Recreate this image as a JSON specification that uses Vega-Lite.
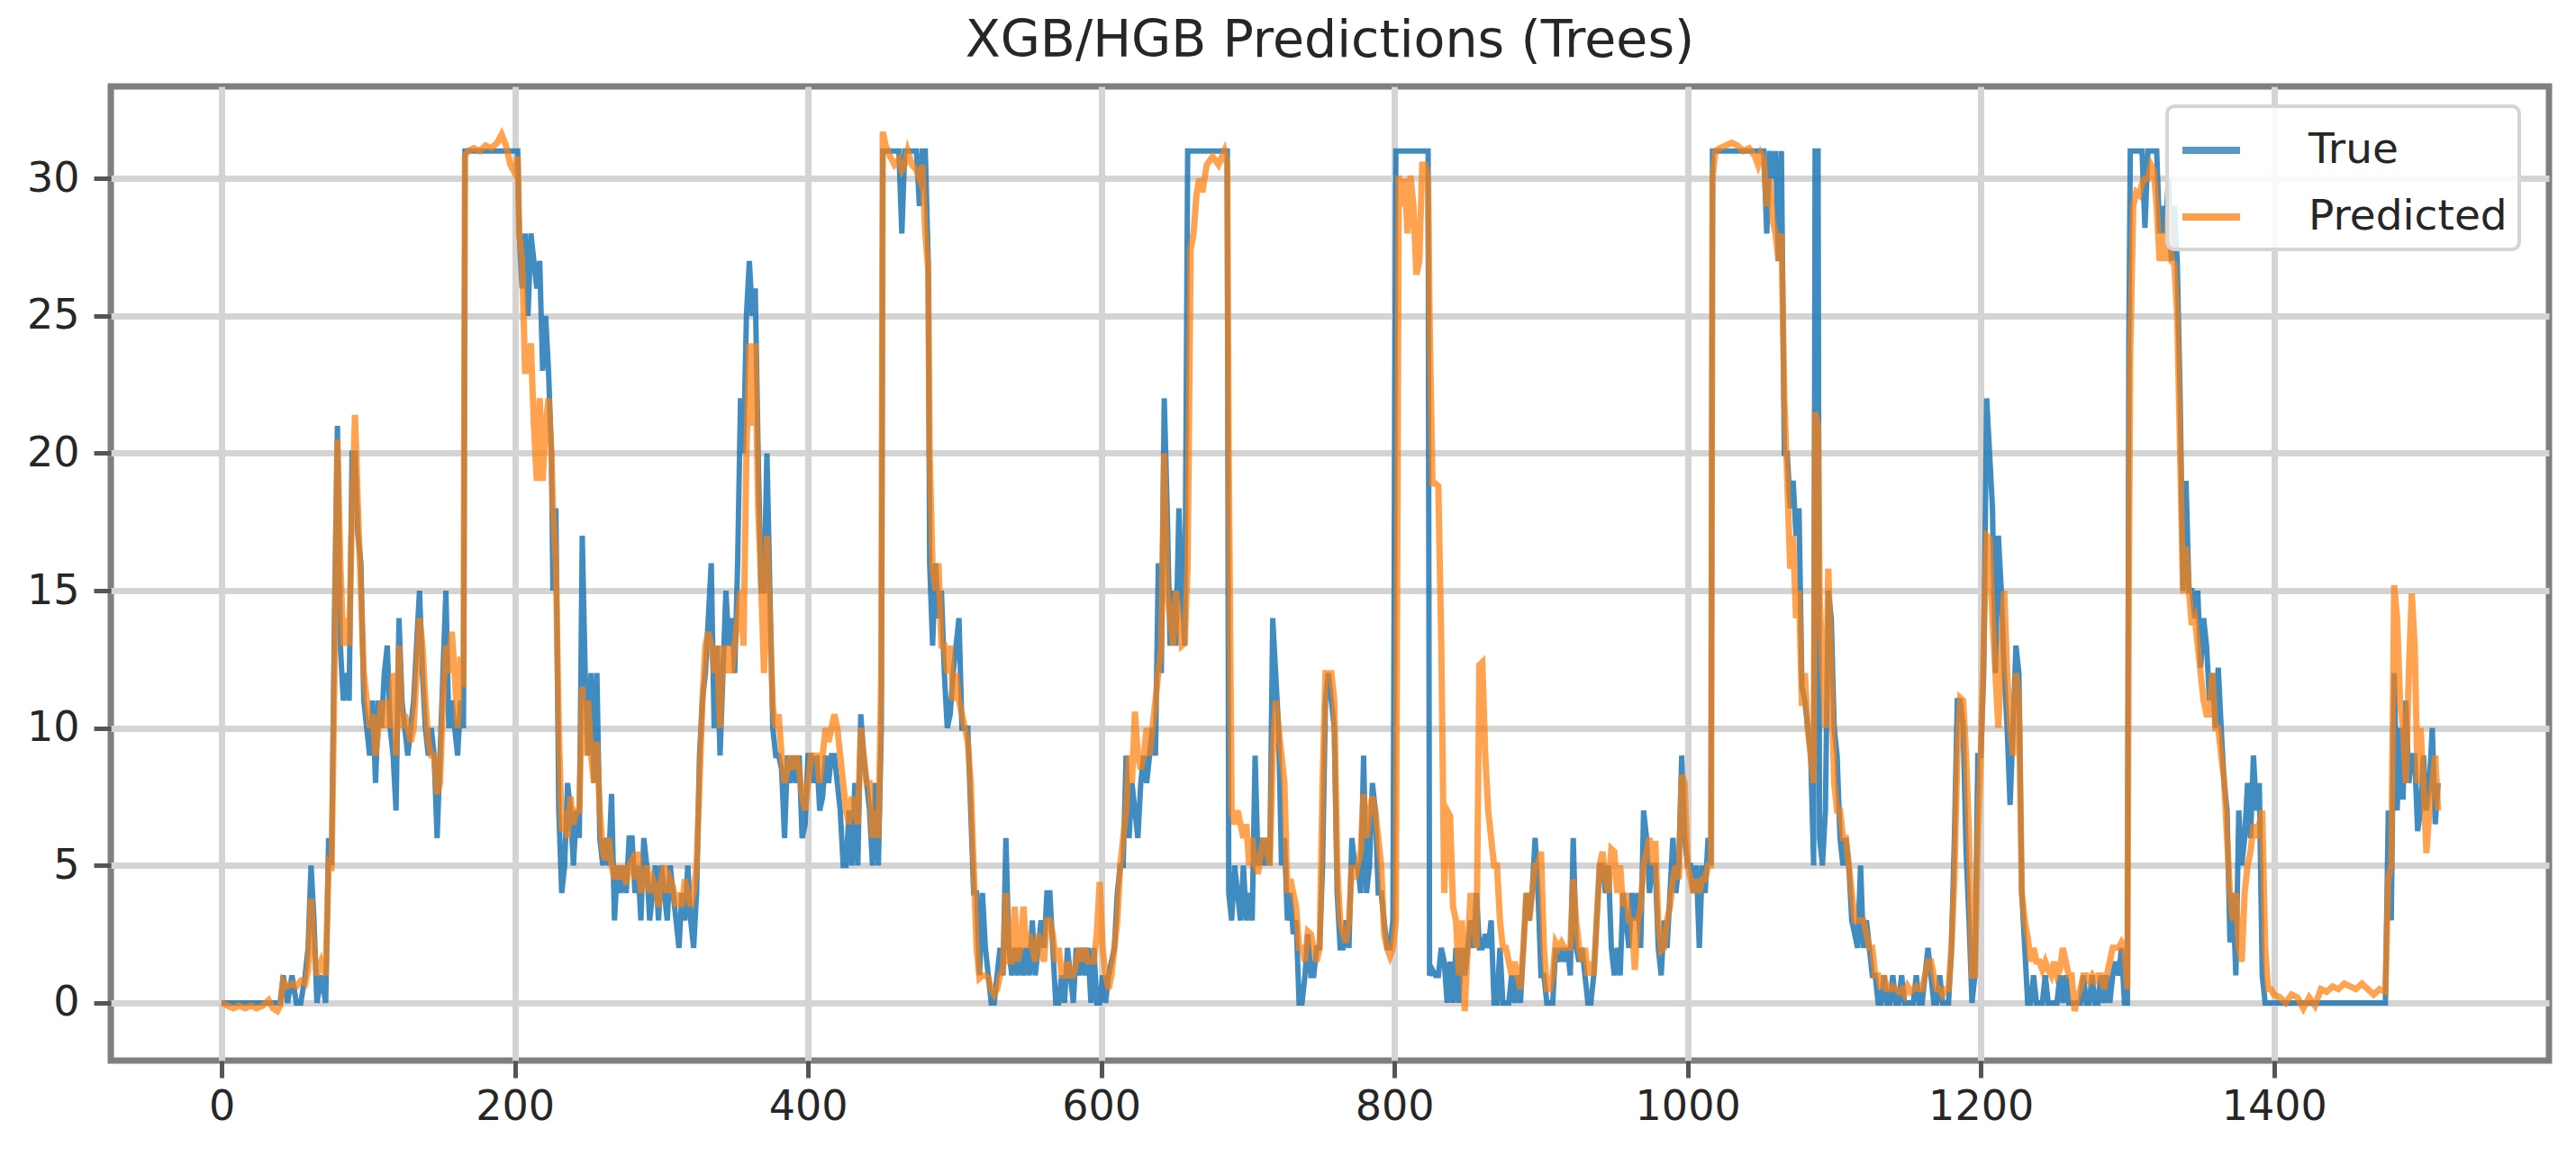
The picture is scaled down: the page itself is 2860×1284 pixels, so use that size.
{
"$schema":"https://vega.github.io/schema/vega-lite/v6.json",
"width":2707,"height":1082,
"autosize":{"type":"none"},
"padding":{"left":123,"top":96,"right":30,"bottom":106},
"title":{"text":"XGB/HGB Predictions (Trees)","font":"DejaVu Sans","fontSize":57,"fontWeight":"normal","color":"#262626","offset":21},
"data":{"values":[
{"x":0,"True":0,"Predicted":0},{"x":4,"True":0,"Predicted":-0.1},{"x":8,"True":0,"Predicted":-0.2},{"x":12,"True":0,"Predicted":-0.1},{"x":16,"True":0,"Predicted":-0.2},{"x":20,"True":0,"Predicted":-0.1},{"x":24,"True":0,"Predicted":-0.2},{"x":28,"True":0,"Predicted":-0.1},{"x":32,"True":0,"Predicted":0.1},{"x":35,"True":0,"Predicted":-0.2},{"x":38,"True":0,"Predicted":-0.3},{"x":40,"True":0,"Predicted":-0.1},
{"x":42,"True":1,"Predicted":0.8},{"x":45,"True":0,"Predicted":0.6},{"x":48,"True":1,"Predicted":0.7},{"x":51,"True":0,"Predicted":0.6},{"x":54,"True":0,"Predicted":0.8},{"x":57,"True":1,"Predicted":0.7},{"x":59,"True":2,"Predicted":1.2},{"x":61,"True":5,"Predicted":3.8},{"x":63,"True":3,"Predicted":2},{"x":65,"True":0,"Predicted":1},{"x":68,"True":1,"Predicted":1.5},{"x":71,"True":0,"Predicted":1},{"x":73,"True":6,"Predicted":5},{"x":75,"True":5,"Predicted":4.8},{"x":77,"True":14,"Predicted":12},{"x":79,"True":21,"Predicted":20.5},{"x":81,"True":13,"Predicted":16},{"x":83,"True":11,"Predicted":13},{"x":85,"True":12,"Predicted":14},{"x":87,"True":11,"Predicted":13},{"x":89,"True":20,"Predicted":18},{"x":91,"True":20,"Predicted":21.4},{"x":93,"True":17,"Predicted":18},{"x":95,"True":16,"Predicted":15},{"x":97,"True":11,"Predicted":12},{"x":99,"True":10,"Predicted":11},
{"x":101,"True":9,"Predicted":10},{"x":103,"True":11,"Predicted":10.5},{"x":105,"True":8,"Predicted":9},{"x":107,"True":11,"Predicted":10},{"x":109,"True":10,"Predicted":11},{"x":111,"True":12,"Predicted":10},{"x":113,"True":13,"Predicted":11},{"x":115,"True":10,"Predicted":10},{"x":117,"True":9,"Predicted":12},{"x":119,"True":7,"Predicted":9},{"x":121,"True":14,"Predicted":13},{"x":123,"True":11,"Predicted":10},{"x":125,"True":10,"Predicted":10.5},{"x":127,"True":9,"Predicted":10},{"x":129,"True":10,"Predicted":9.5},{"x":131,"True":11,"Predicted":10},{"x":133,"True":13,"Predicted":12},{"x":135,"True":15,"Predicted":14},{"x":137,"True":12,"Predicted":13},{"x":139,"True":10,"Predicted":11},{"x":141,"True":9,"Predicted":9.5},{"x":143,"True":10,"Predicted":9},{"x":145,"True":9,"Predicted":9},{"x":147,"True":6,"Predicted":7.6},{"x":149,"True":9,"Predicted":8},{"x":151,"True":12,"Predicted":11},{"x":153,"True":15,"Predicted":13},{"x":155,"True":10,"Predicted":12},{"x":157,"True":11,"Predicted":13.5},{"x":159,"True":10,"Predicted":12},{"x":161,"True":9,"Predicted":10},{"x":163,"True":11,"Predicted":12.6},{"x":165,"True":10,"Predicted":11.5},
{"x":166,"True":31,"Predicted":30.8},{"x":168,"True":31,"Predicted":31},{"x":172,"True":31,"Predicted":31.1},{"x":176,"True":31,"Predicted":31},{"x":180,"True":31,"Predicted":31.2},{"x":184,"True":31,"Predicted":31.1},{"x":188,"True":31,"Predicted":31.3},{"x":191,"True":31,"Predicted":31.6},{"x":194,"True":31,"Predicted":31.2},{"x":197,"True":31,"Predicted":30.5},{"x":200,"True":31,"Predicted":30.2},{"x":202,"True":31,"Predicted":30.8},
{"x":203,"True":28,"Predicted":28},{"x":205,"True":26,"Predicted":27},{"x":207,"True":28,"Predicted":23},{"x":209,"True":25,"Predicted":23},{"x":211,"True":28,"Predicted":24},{"x":213,"True":27,"Predicted":21},{"x":215,"True":26,"Predicted":19},{"x":217,"True":27,"Predicted":22},{"x":219,"True":23,"Predicted":19},{"x":221,"True":25,"Predicted":21},{"x":223,"True":23,"Predicted":22},{"x":225,"True":20,"Predicted":20},{"x":226,"True":15,"Predicted":18},{"x":228,"True":18,"Predicted":16},{"x":230,"True":7,"Predicted":10},{"x":232,"True":4,"Predicted":6.25},{"x":234,"True":5,"Predicted":7},{"x":236,"True":8,"Predicted":6},{"x":238,"True":7,"Predicted":7.5},{"x":240,"True":5,"Predicted":6.5},{"x":242,"True":7,"Predicted":7},{"x":244,"True":6,"Predicted":7},{"x":246,"True":17,"Predicted":11.5},{"x":248,"True":12,"Predicted":9},{"x":250,"True":9,"Predicted":11},{"x":252,"True":12,"Predicted":9},{"x":254,"True":8,"Predicted":8},{"x":256,"True":12,"Predicted":9.5},{"x":258,"True":6,"Predicted":7},{"x":260,"True":5,"Predicted":5.5},{"x":262,"True":6,"Predicted":5.2},{"x":264,"True":5,"Predicted":6},{"x":266,"True":7.6,"Predicted":5},{"x":268,"True":3,"Predicted":4.5},{"x":270,"True":5,"Predicted":5},{"x":272,"True":4,"Predicted":4.5},{"x":274,"True":5,"Predicted":5},{"x":276,"True":4,"Predicted":4.3},{"x":278,"True":6,"Predicted":5},{"x":280,"True":6,"Predicted":5.2},{"x":282,"True":4,"Predicted":4.5},{"x":284,"True":5,"Predicted":5.5},{"x":286,"True":3,"Predicted":4},{"x":288,"True":6,"Predicted":4.5},{"x":290,"True":5,"Predicted":5},{"x":292,"True":3,"Predicted":4},{"x":294,"True":4,"Predicted":4.5},{"x":296,"True":5,"Predicted":4.2},{"x":298,"True":3,"Predicted":3.5},{"x":300,"True":5,"Predicted":4.5},{"x":302,"True":4,"Predicted":5},{"x":304,"True":3,"Predicted":4},{"x":306,"True":5,"Predicted":4.5},{"x":308,"True":4,"Predicted":4.2},{"x":310,"True":3,"Predicted":3.5},{"x":312,"True":2,"Predicted":4},{"x":314,"True":4,"Predicted":3.5},{"x":316,"True":3,"Predicted":4.5},{"x":318,"True":5,"Predicted":4},{"x":320,"True":3,"Predicted":3.5},{"x":322,"True":2,"Predicted":4},{"x":324,"True":4,"Predicted":5},
{"x":326,"True":9,"Predicted":8},{"x":328,"True":11,"Predicted":11},{"x":330,"True":12,"Predicted":13},{"x":332,"True":14,"Predicted":13.5},{"x":334,"True":16,"Predicted":13},{"x":336,"True":10,"Predicted":12},{"x":338,"True":13,"Predicted":13},{"x":340,"True":9,"Predicted":10},{"x":342,"True":12,"Predicted":13},{"x":344,"True":15,"Predicted":12},{"x":346,"True":13,"Predicted":13},{"x":348,"True":14,"Predicted":12},{"x":350,"True":12,"Predicted":13},{"x":352,"True":16,"Predicted":14},{"x":354,"True":22,"Predicted":15},{"x":356,"True":20,"Predicted":13},{"x":358,"True":25,"Predicted":20},{"x":360,"True":27,"Predicted":24},{"x":362,"True":25,"Predicted":21},{"x":364,"True":26,"Predicted":24},{"x":366,"True":20,"Predicted":18},{"x":368,"True":15,"Predicted":15.3},{"x":370,"True":15,"Predicted":12},{"x":372,"True":20,"Predicted":17},{"x":374,"True":15,"Predicted":14},{"x":376,"True":10,"Predicted":10.8},{"x":378,"True":9,"Predicted":10},{"x":380,"True":9,"Predicted":10.5},{"x":382,"True":8.5,"Predicted":9},{"x":384,"True":6,"Predicted":8},{"x":386,"True":9,"Predicted":8.5},{"x":388,"True":8,"Predicted":9},{"x":390,"True":9,"Predicted":8.5},{"x":392,"True":8,"Predicted":9},{"x":394,"True":9,"Predicted":8.5},{"x":396,"True":6,"Predicted":7.5},{"x":398,"True":6.5,"Predicted":7},{"x":400,"True":9,"Predicted":8},{"x":402,"True":9,"Predicted":9},{"x":404,"True":8,"Predicted":9},{"x":406,"True":9,"Predicted":9},{"x":408,"True":7,"Predicted":8},{"x":410,"True":7.5,"Predicted":9},{"x":412,"True":9,"Predicted":10},{"x":414,"True":8,"Predicted":9.5},{"x":416,"True":9,"Predicted":10},{"x":418,"True":9,"Predicted":10.5},{"x":420,"True":8,"Predicted":10},{"x":422,"True":7,"Predicted":9},{"x":424,"True":5,"Predicted":8},{"x":426,"True":5,"Predicted":7},{"x":428,"True":7,"Predicted":6.5},{"x":430,"True":5,"Predicted":7.5},{"x":432,"True":8,"Predicted":7},{"x":434,"True":5,"Predicted":6.5},{"x":436,"True":10.5,"Predicted":10},{"x":438,"True":9,"Predicted":9},{"x":440,"True":8,"Predicted":8},{"x":442,"True":7,"Predicted":8},{"x":444,"True":5,"Predicted":6},{"x":446,"True":8,"Predicted":7},{"x":448,"True":5,"Predicted":6},{"x":450,"True":10,"Predicted":12},
{"x":451,"True":31,"Predicted":31.7},{"x":453,"True":31,"Predicted":31.2},{"x":456,"True":31,"Predicted":30.8},{"x":459,"True":31,"Predicted":30.5},{"x":462,"True":31,"Predicted":30.7},{"x":464,"True":28,"Predicted":30.3},{"x":466,"True":31,"Predicted":30.5},{"x":468,"True":31,"Predicted":31},{"x":471,"True":31,"Predicted":30.5},{"x":474,"True":31,"Predicted":30.3},{"x":476,"True":29,"Predicted":30},{"x":478,"True":31,"Predicted":30.5},{"x":480,"True":31,"Predicted":28},{"x":482,"True":27,"Predicted":26.7},
{"x":483,"True":16,"Predicted":20},{"x":485,"True":13,"Predicted":15.8},{"x":487,"True":16,"Predicted":15},{"x":489,"True":14,"Predicted":16},{"x":491,"True":15,"Predicted":13},{"x":493,"True":12,"Predicted":13},{"x":495,"True":10,"Predicted":12},{"x":497,"True":10.5,"Predicted":13},{"x":499,"True":12,"Predicted":11},{"x":501,"True":13,"Predicted":12},{"x":503,"True":14,"Predicted":11},{"x":505,"True":10,"Predicted":10.5},{"x":507,"True":10,"Predicted":10},{"x":509,"True":10,"Predicted":9.5},{"x":511,"True":7,"Predicted":8},{"x":513,"True":4,"Predicted":5},{"x":515,"True":4,"Predicted":2},{"x":517,"True":1,"Predicted":0.9},{"x":519,"True":4,"Predicted":1},{"x":521,"True":2,"Predicted":1},{"x":523,"True":1,"Predicted":0.9},{"x":525,"True":0,"Predicted":0.5},{"x":527,"True":0,"Predicted":0.3},{"x":529,"True":1,"Predicted":0.5},{"x":531,"True":2,"Predicted":1},{"x":533,"True":1,"Predicted":1.2},{"x":535,"True":6,"Predicted":4},{"x":537,"True":2,"Predicted":1.5},{"x":539,"True":1,"Predicted":1.5},{"x":541,"True":2,"Predicted":3.5},{"x":543,"True":1,"Predicted":1.5},{"x":545,"True":2,"Predicted":2},{"x":547,"True":1,"Predicted":3.5},{"x":549,"True":2,"Predicted":2},{"x":551,"True":1,"Predicted":2.5},{"x":553,"True":3,"Predicted":2},{"x":555,"True":1,"Predicted":1.5},{"x":557,"True":2,"Predicted":2.5},{"x":559,"True":3,"Predicted":2},{"x":561,"True":2,"Predicted":1.5},{"x":563,"True":4,"Predicted":3},{"x":565,"True":4,"Predicted":3},{"x":567,"True":2,"Predicted":2.5},{"x":569,"True":0,"Predicted":1.5},{"x":571,"True":0,"Predicted":2},{"x":573,"True":1,"Predicted":1},{"x":575,"True":0,"Predicted":1},{"x":577,"True":2,"Predicted":1.5},{"x":579,"True":1,"Predicted":1},{"x":581,"True":0,"Predicted":1},{"x":583,"True":2,"Predicted":1.5},{"x":585,"True":1,"Predicted":2},{"x":587,"True":2,"Predicted":1.5},{"x":589,"True":1,"Predicted":2},{"x":591,"True":2,"Predicted":1.5},{"x":593,"True":0,"Predicted":1.5},{"x":595,"True":2,"Predicted":1.5},{"x":597,"True":0,"Predicted":2.5},{"x":599,"True":0,"Predicted":4.4},{"x":601,"True":1,"Predicted":2},{"x":603,"True":0,"Predicted":1},{"x":605,"True":1,"Predicted":0.5},{"x":607,"True":1.5,"Predicted":1},{"x":609,"True":2,"Predicted":2},{"x":611,"True":4,"Predicted":3},{"x":613,"True":5,"Predicted":5},{"x":615,"True":5,"Predicted":6},{"x":617,"True":9,"Predicted":7},{"x":619,"True":6,"Predicted":9},{"x":621,"True":8,"Predicted":8},{"x":623,"True":7,"Predicted":10.6},{"x":625,"True":6,"Predicted":9},{"x":627,"True":8,"Predicted":8.5},{"x":629,"True":9,"Predicted":9},{"x":631,"True":8,"Predicted":10},{"x":633,"True":9,"Predicted":9},{"x":635,"True":10,"Predicted":10},{"x":637,"True":9,"Predicted":11},{"x":639,"True":16,"Predicted":12},{"x":641,"True":12,"Predicted":13},{"x":643,"True":22,"Predicted":20},{"x":645,"True":18,"Predicted":15},{"x":647,"True":13,"Predicted":14},{"x":649,"True":15,"Predicted":13},{"x":651,"True":13,"Predicted":15},{"x":653,"True":18,"Predicted":14},{"x":655,"True":15,"Predicted":13},{"x":657,"True":13,"Predicted":13.1},
{"x":659,"True":31,"Predicted":16},{"x":661,"True":31,"Predicted":27.4},{"x":663,"True":31,"Predicted":28},{"x":665,"True":31,"Predicted":29.4},{"x":667,"True":31,"Predicted":30},{"x":669,"True":31,"Predicted":29.5},{"x":672,"True":31,"Predicted":30.5},{"x":676,"True":31,"Predicted":30.8},{"x":680,"True":31,"Predicted":30.5},{"x":684,"True":31,"Predicted":31},{"x":686,"True":31,"Predicted":30.5},
{"x":687,"True":4,"Predicted":20},{"x":689,"True":3,"Predicted":7},{"x":691,"True":5,"Predicted":6.5},{"x":693,"True":4,"Predicted":7},{"x":695,"True":3,"Predicted":6.5},{"x":697,"True":5,"Predicted":6},{"x":699,"True":3,"Predicted":6.5},{"x":701,"True":4,"Predicted":5},{"x":703,"True":3,"Predicted":6},{"x":705,"True":9,"Predicted":5},{"x":707,"True":5,"Predicted":4.7},{"x":709,"True":6,"Predicted":5.5},{"x":711,"True":5,"Predicted":6},{"x":713,"True":6,"Predicted":5.5},{"x":715,"True":5,"Predicted":5},{"x":717,"True":14,"Predicted":9},{"x":719,"True":12,"Predicted":11},{"x":721,"True":10,"Predicted":10},{"x":723,"True":5,"Predicted":9},{"x":725,"True":6,"Predicted":8},{"x":727,"True":3,"Predicted":4},{"x":729,"True":4,"Predicted":4.5},{"x":731,"True":2.5,"Predicted":4},{"x":733,"True":3,"Predicted":3.5},{"x":735,"True":0,"Predicted":2},{"x":737,"True":0,"Predicted":2},{"x":739,"True":1,"Predicted":1.5},{"x":741,"True":2.5,"Predicted":2.6},{"x":743,"True":1,"Predicted":2.5},{"x":745,"True":1,"Predicted":2},{"x":747,"True":2,"Predicted":1.5},{"x":749,"True":2,"Predicted":2},{"x":751,"True":5,"Predicted":8},{"x":753,"True":11,"Predicted":12},{"x":755,"True":12,"Predicted":12},{"x":757,"True":11,"Predicted":12},{"x":759,"True":10,"Predicted":11},{"x":761,"True":4,"Predicted":5},{"x":763,"True":2,"Predicted":3},{"x":765,"True":2,"Predicted":2.5},{"x":767,"True":3,"Predicted":2.2},{"x":769,"True":2,"Predicted":3},{"x":771,"True":6,"Predicted":5},{"x":773,"True":5,"Predicted":4.5},{"x":775,"True":5,"Predicted":5},{"x":777,"True":4,"Predicted":5.5},{"x":779,"True":9,"Predicted":7.6},{"x":781,"True":4,"Predicted":6},{"x":783,"True":5,"Predicted":7},{"x":785,"True":8,"Predicted":7.5},{"x":787,"True":7,"Predicted":7},{"x":789,"True":4,"Predicted":6},{"x":791,"True":4,"Predicted":5},{"x":793,"True":3,"Predicted":2.5},{"x":795,"True":2,"Predicted":2},{"x":797,"True":2,"Predicted":1.7},{"x":799,"True":3,"Predicted":2},
{"x":801,"True":31,"Predicted":3},{"x":803,"True":31,"Predicted":30.1},{"x":805,"True":31,"Predicted":29},{"x":807,"True":31,"Predicted":30},{"x":809,"True":31,"Predicted":28},{"x":811,"True":31,"Predicted":30.1},{"x":813,"True":31,"Predicted":29},{"x":815,"True":31,"Predicted":26.5},{"x":817,"True":31,"Predicted":27},{"x":819,"True":31,"Predicted":30.5},{"x":821,"True":31,"Predicted":30.5},{"x":823,"True":31,"Predicted":30},
{"x":824,"True":1,"Predicted":25},{"x":826,"True":1.2,"Predicted":18.9},{"x":828,"True":1,"Predicted":18.9},{"x":830,"True":1,"Predicted":18.8},{"x":832,"True":2,"Predicted":13},{"x":834,"True":1.5,"Predicted":4},{"x":836,"True":0,"Predicted":7},{"x":838,"True":1.5,"Predicted":6.8},{"x":840,"True":0,"Predicted":3.5},{"x":842,"True":2,"Predicted":3},{"x":844,"True":0,"Predicted":1},{"x":846,"True":2,"Predicted":3},{"x":848,"True":1,"Predicted":-0.3},{"x":850,"True":2,"Predicted":2},{"x":852,"True":3,"Predicted":4},{"x":854,"True":2,"Predicted":3},{"x":856,"True":4,"Predicted":2},{"x":858,"True":2,"Predicted":12.3},{"x":860,"True":2,"Predicted":12.4},{"x":862,"True":2.5,"Predicted":9},{"x":864,"True":2,"Predicted":7},{"x":866,"True":3,"Predicted":6},{"x":868,"True":0,"Predicted":5},{"x":870,"True":0,"Predicted":5},{"x":872,"True":2,"Predicted":3},{"x":874,"True":0,"Predicted":2},{"x":876,"True":0,"Predicted":2},{"x":878,"True":0,"Predicted":1.5},{"x":880,"True":1,"Predicted":1},{"x":882,"True":0,"Predicted":1.5},{"x":884,"True":1,"Predicted":1},{"x":886,"True":0,"Predicted":0.5},{"x":888,"True":2,"Predicted":2},{"x":890,"True":4,"Predicted":4},{"x":892,"True":3,"Predicted":3},{"x":894,"True":4,"Predicted":4},{"x":896,"True":6,"Predicted":5},{"x":898,"True":4,"Predicted":5},{"x":900,"True":1,"Predicted":5.5},{"x":902,"True":1,"Predicted":2},{"x":904,"True":0,"Predicted":0.5},{"x":906,"True":0,"Predicted":0.5},{"x":908,"True":0,"Predicted":1},{"x":910,"True":2,"Predicted":2.2},{"x":912,"True":1.5,"Predicted":2},{"x":914,"True":2,"Predicted":2.2},{"x":916,"True":1.5,"Predicted":2},{"x":918,"True":2,"Predicted":2},{"x":920,"True":1,"Predicted":2},{"x":922,"True":6,"Predicted":4.5},{"x":924,"True":2,"Predicted":3},{"x":926,"True":1.5,"Predicted":2},{"x":928,"True":2,"Predicted":1.5},{"x":930,"True":1,"Predicted":2},{"x":932,"True":0,"Predicted":1},{"x":934,"True":0,"Predicted":1.5},{"x":936,"True":1,"Predicted":1},{"x":938,"True":3,"Predicted":3},{"x":940,"True":5,"Predicted":5},{"x":942,"True":5,"Predicted":5.5},{"x":944,"True":4,"Predicted":4.5},{"x":946,"True":5,"Predicted":4},{"x":948,"True":2,"Predicted":5.6},{"x":950,"True":1,"Predicted":5.5},{"x":952,"True":2,"Predicted":4},{"x":954,"True":1,"Predicted":5},{"x":956,"True":4,"Predicted":3.5},{"x":958,"True":3,"Predicted":4},{"x":960,"True":2,"Predicted":3},{"x":962,"True":4,"Predicted":3},{"x":964,"True":3,"Predicted":1.2},{"x":966,"True":4,"Predicted":3},{"x":968,"True":2,"Predicted":3.5},{"x":970,"True":7,"Predicted":5},{"x":972,"True":6,"Predicted":5.5},{"x":974,"True":4,"Predicted":6},{"x":976,"True":5,"Predicted":5},{"x":978,"True":5,"Predicted":5.9},{"x":980,"True":2,"Predicted":3},{"x":982,"True":1,"Predicted":1.9},{"x":984,"True":3,"Predicted":2},{"x":986,"True":2,"Predicted":3},{"x":988,"True":4,"Predicted":3.5},{"x":990,"True":6,"Predicted":4.5},{"x":992,"True":4,"Predicted":5},{"x":994,"True":5,"Predicted":4.5},{"x":996,"True":9,"Predicted":8.3},{"x":998,"True":6,"Predicted":8},{"x":1000,"True":5,"Predicted":5},{"x":1002,"True":5,"Predicted":4.5},{"x":1004,"True":4,"Predicted":4},{"x":1006,"True":5,"Predicted":4.5},{"x":1008,"True":2,"Predicted":4},{"x":1010,"True":5,"Predicted":4.5},{"x":1012,"True":4,"Predicted":4.5},{"x":1014,"True":6,"Predicted":5},{"x":1016,"True":5,"Predicted":5},
{"x":1017,"True":31,"Predicted":30},{"x":1019,"True":31,"Predicted":31},{"x":1022,"True":31,"Predicted":31.1},{"x":1026,"True":31,"Predicted":31.2},{"x":1030,"True":31,"Predicted":31.3},{"x":1034,"True":31,"Predicted":31.2},{"x":1038,"True":31,"Predicted":31},{"x":1042,"True":31,"Predicted":31.1},{"x":1046,"True":31,"Predicted":30.8},{"x":1048,"True":31,"Predicted":30.5},{"x":1050,"True":31,"Predicted":30.9},{"x":1052,"True":31,"Predicted":30.7},{"x":1054,"True":28,"Predicted":29},{"x":1056,"True":31,"Predicted":30},{"x":1058,"True":30,"Predicted":28.5},{"x":1060,"True":31,"Predicted":28},{"x":1062,"True":27,"Predicted":27},{"x":1064,"True":31,"Predicted":28},
{"x":1066,"True":20,"Predicted":22},{"x":1068,"True":20,"Predicted":19},{"x":1070,"True":18,"Predicted":15.8},{"x":1072,"True":19,"Predicted":17},{"x":1074,"True":17,"Predicted":14},{"x":1076,"True":18,"Predicted":15},{"x":1078,"True":11.5,"Predicted":10.8},{"x":1080,"True":11,"Predicted":12},{"x":1082,"True":10,"Predicted":10},{"x":1084,"True":9,"Predicted":9},{"x":1086,"True":5,"Predicted":8},{"x":1087,"True":31,"Predicted":21.5},{"x":1089,"True":31,"Predicted":21},{"x":1090,"True":6,"Predicted":15},{"x":1092,"True":5,"Predicted":12},{"x":1094,"True":7,"Predicted":10},{"x":1096,"True":15,"Predicted":15.8},{"x":1098,"True":14,"Predicted":12},{"x":1100,"True":10,"Predicted":8},{"x":1102,"True":9,"Predicted":7},{"x":1104,"True":6,"Predicted":7},{"x":1106,"True":5,"Predicted":6},{"x":1108,"True":6,"Predicted":6},{"x":1110,"True":5,"Predicted":5},{"x":1112,"True":3,"Predicted":4},{"x":1114,"True":2.5,"Predicted":3},{"x":1116,"True":2,"Predicted":3},{"x":1118,"True":5,"Predicted":3},{"x":1120,"True":2,"Predicted":3},{"x":1122,"True":3,"Predicted":2.5},{"x":1124,"True":2,"Predicted":2},{"x":1126,"True":1,"Predicted":2},{"x":1128,"True":1,"Predicted":1},{"x":1130,"True":0,"Predicted":1},{"x":1132,"True":0,"Predicted":0.5},{"x":1134,"True":1,"Predicted":1},{"x":1136,"True":0,"Predicted":0.5},{"x":1138,"True":0,"Predicted":0.5},{"x":1140,"True":1,"Predicted":0.6},{"x":1142,"True":0,"Predicted":0.5},{"x":1144,"True":0,"Predicted":0.4},{"x":1146,"True":1,"Predicted":0.5},{"x":1148,"True":0,"Predicted":0.3},{"x":1150,"True":0,"Predicted":0.6},{"x":1152,"True":0,"Predicted":0.4},{"x":1154,"True":0,"Predicted":0.5},{"x":1156,"True":1,"Predicted":0.6},{"x":1158,"True":0,"Predicted":0.5},{"x":1160,"True":0,"Predicted":0.5},{"x":1162,"True":1,"Predicted":1},{"x":1164,"True":2,"Predicted":1.5},{"x":1166,"True":1,"Predicted":1.5},{"x":1168,"True":0,"Predicted":1},{"x":1170,"True":0,"Predicted":0.5},{"x":1172,"True":1,"Predicted":0.5},{"x":1174,"True":0,"Predicted":0.3},{"x":1176,"True":0,"Predicted":0.5},{"x":1178,"True":0,"Predicted":0.5},{"x":1180,"True":2,"Predicted":2},{"x":1182,"True":6,"Predicted":4.5},{"x":1184,"True":11,"Predicted":9},{"x":1186,"True":11,"Predicted":11.1},{"x":1188,"True":10,"Predicted":11},{"x":1190,"True":5.5,"Predicted":9},{"x":1192,"True":3,"Predicted":6},{"x":1194,"True":0,"Predicted":1},{"x":1196,"True":1,"Predicted":1},{"x":1198,"True":9,"Predicted":6},{"x":1200,"True":9,"Predicted":9},{"x":1202,"True":12,"Predicted":13.2},{"x":1204,"True":22,"Predicted":17},{"x":1206,"True":20,"Predicted":16.9},{"x":1208,"True":18,"Predicted":14},{"x":1210,"True":12,"Predicted":12},{"x":1212,"True":17,"Predicted":10},{"x":1214,"True":15,"Predicted":13},{"x":1216,"True":12,"Predicted":15},{"x":1218,"True":10,"Predicted":12},{"x":1220,"True":7.2,"Predicted":10},{"x":1222,"True":10,"Predicted":9},{"x":1224,"True":13,"Predicted":12},{"x":1226,"True":12,"Predicted":11},{"x":1228,"True":4,"Predicted":4},{"x":1230,"True":2,"Predicted":3},{"x":1232,"True":0,"Predicted":2.4},{"x":1234,"True":0,"Predicted":1.5},{"x":1236,"True":1,"Predicted":2},{"x":1238,"True":0,"Predicted":1.5},{"x":1240,"True":0,"Predicted":1.5},{"x":1242,"True":0,"Predicted":1.2},{"x":1244,"True":1,"Predicted":1.5},{"x":1246,"True":0,"Predicted":1.2},{"x":1248,"True":0,"Predicted":1},{"x":1250,"True":0,"Predicted":1.5},{"x":1252,"True":0,"Predicted":1},{"x":1254,"True":1,"Predicted":1.2},{"x":1256,"True":0,"Predicted":2},{"x":1258,"True":1,"Predicted":1.5},{"x":1260,"True":0,"Predicted":1},{"x":1262,"True":0,"Predicted":1},{"x":1264,"True":0,"Predicted":-0.3},{"x":1266,"True":0,"Predicted":0.2},{"x":1268,"True":0,"Predicted":0.5},{"x":1270,"True":1,"Predicted":1},{"x":1272,"True":0,"Predicted":1},{"x":1274,"True":0,"Predicted":0.8},{"x":1276,"True":1,"Predicted":1},{"x":1278,"True":0,"Predicted":0.8},{"x":1280,"True":0,"Predicted":1},{"x":1282,"True":1,"Predicted":1},{"x":1284,"True":0,"Predicted":0.5},{"x":1286,"True":1,"Predicted":1},{"x":1288,"True":0,"Predicted":1.5},{"x":1290,"True":1,"Predicted":2},{"x":1292,"True":1.5,"Predicted":2},{"x":1294,"True":1,"Predicted":2},{"x":1296,"True":2,"Predicted":2.2},{"x":1298,"True":0,"Predicted":2},{"x":1300,"True":0,"Predicted":0.5},
{"x":1301,"True":24,"Predicted":15},{"x":1302,"True":31,"Predicted":23.75},{"x":1304,"True":31,"Predicted":29},{"x":1306,"True":31,"Predicted":29.5},{"x":1308,"True":31,"Predicted":29.4},{"x":1310,"True":31,"Predicted":29.8},{"x":1312,"True":28.2,"Predicted":30},{"x":1314,"True":31,"Predicted":30},{"x":1316,"True":31,"Predicted":30.5},{"x":1318,"True":31,"Predicted":30.3},{"x":1320,"True":31,"Predicted":29},{"x":1322,"True":28,"Predicted":27},{"x":1324,"True":29,"Predicted":28},{"x":1326,"True":28,"Predicted":27},{"x":1328,"True":30,"Predicted":29},{"x":1330,"True":27,"Predicted":27},{"x":1332,"True":29,"Predicted":26.9},{"x":1334,"True":27,"Predicted":25},{"x":1336,"True":22,"Predicted":20},{"x":1338,"True":15,"Predicted":14.9},{"x":1340,"True":19,"Predicted":16.6},{"x":1342,"True":15,"Predicted":15},{"x":1344,"True":15,"Predicted":13.75},{"x":1346,"True":14,"Predicted":14},{"x":1348,"True":15,"Predicted":13},{"x":1350,"True":12.2,"Predicted":12},{"x":1352,"True":14,"Predicted":11},{"x":1354,"True":13,"Predicted":10.5},{"x":1356,"True":11,"Predicted":10.5},{"x":1358,"True":12,"Predicted":12},{"x":1360,"True":10,"Predicted":10},{"x":1362,"True":12.2,"Predicted":10},{"x":1364,"True":10,"Predicted":9},{"x":1366,"True":8,"Predicted":8.1},{"x":1368,"True":7,"Predicted":6},{"x":1370,"True":2.2,"Predicted":4},{"x":1372,"True":4,"Predicted":3},{"x":1374,"True":1,"Predicted":4},{"x":1376,"True":7,"Predicted":2},{"x":1378,"True":5,"Predicted":1.5},{"x":1380,"True":6,"Predicted":4},{"x":1382,"True":8,"Predicted":5},{"x":1384,"True":6,"Predicted":5.5},{"x":1386,"True":9,"Predicted":6.5},{"x":1388,"True":7,"Predicted":6},{"x":1390,"True":8,"Predicted":6.5},{"x":1392,"True":1,"Predicted":7},{"x":1394,"True":0,"Predicted":2},{"x":1396,"True":0,"Predicted":0.5},{"x":1398,"True":0,"Predicted":0.5},{"x":1400,"True":0,"Predicted":0.3},{"x":1404,"True":0,"Predicted":0.2},{"x":1408,"True":0,"Predicted":0},{"x":1412,"True":0,"Predicted":0.3},{"x":1416,"True":0,"Predicted":0.2},{"x":1420,"True":0,"Predicted":-0.2},{"x":1424,"True":0,"Predicted":0.2},{"x":1428,"True":0,"Predicted":-0.1},{"x":1432,"True":0,"Predicted":0.5},{"x":1436,"True":0,"Predicted":0.4},{"x":1440,"True":0,"Predicted":0.6},{"x":1444,"True":0,"Predicted":0.5},{"x":1448,"True":0,"Predicted":0.7},{"x":1452,"True":0,"Predicted":0.6},{"x":1456,"True":0,"Predicted":0.5},{"x":1460,"True":0,"Predicted":0.7},{"x":1464,"True":0,"Predicted":0.5},{"x":1468,"True":0,"Predicted":0.3},{"x":1472,"True":0,"Predicted":0.5},{"x":1476,"True":0,"Predicted":0.4},{"x":1478,"True":7,"Predicted":4.5},{"x":1480,"True":3,"Predicted":5},{"x":1482,"True":12,"Predicted":15.2},{"x":1484,"True":7,"Predicted":14},{"x":1486,"True":10,"Predicted":11},{"x":1488,"True":7.4,"Predicted":10},{"x":1490,"True":11,"Predicted":8},{"x":1492,"True":8,"Predicted":12},{"x":1494,"True":9,"Predicted":14.9},{"x":1496,"True":9,"Predicted":13},{"x":1498,"True":6.25,"Predicted":8},{"x":1500,"True":7,"Predicted":10},{"x":1502,"True":9,"Predicted":8},{"x":1504,"True":7,"Predicted":5.45},{"x":1506,"True":8,"Predicted":7},{"x":1508,"True":10,"Predicted":8},{"x":1510,"True":6.5,"Predicted":9},{"x":1512,"True":8,"Predicted":7}
]},
"transform":[{"fold":["True","Predicted"],"as":["series","value"]}],
"encoding":{
"x":{"field":"x","type":"quantitative","scale":{"domain":[-75.6,1587.6],"nice":false,"zero":false},"axis":{"values":[0,200,400,600,800,1000,1200,1400],"format":"d","labelPadding":10,"labelFlush":false}},
"y":{"field":"value","type":"quantitative","scale":{"domain":[-2.1,33.35],"nice":false,"zero":false},"axis":{"values":[0,5,10,15,20,25,30],"labelPadding":16}},
"color":{"field":"series","type":"nominal","scale":{"domain":["True","Predicted"],"range":["#1f77b4","#ff7f0e"]},
"legend":{"orient":"none","legendX":2283,"legendY":22,"title":null,"symbolType":"stroke","symbolSize":4096,"symbolStrokeWidth":8,"symbolOpacity":0.75,"labelFont":"DejaVu Sans","labelFontSize":47,"labelColor":"#262626","labelOffset":72,"labelLimit":0,"rowPadding":15,"padding":13,"fillColor":"rgba(255,255,255,0.85)","strokeColor":"#d5d5d5","cornerRadius":8}}
},
"layer":[
{"transform":[{"filter":"datum.series==='True'"}],"mark":{"type":"line","strokeWidth":6,"opacity":0.85}},
{"transform":[{"filter":"datum.series==='Predicted'"}],"mark":{"type":"line","strokeWidth":7,"opacity":0.72}}
],
"config":{
"view":{"stroke":"#7f7f7f","strokeWidth":7},
"axis":{"domain":false,"grid":true,"gridColor":"#d4d4d4","gridWidth":7,"tickColor":"#555555","tickWidth":5,"tickSize":19,"labelFont":"DejaVu Sans","labelFontSize":46,"labelColor":"#262626","title":null},
"legend":{"strokeWidth":4}
}
}
